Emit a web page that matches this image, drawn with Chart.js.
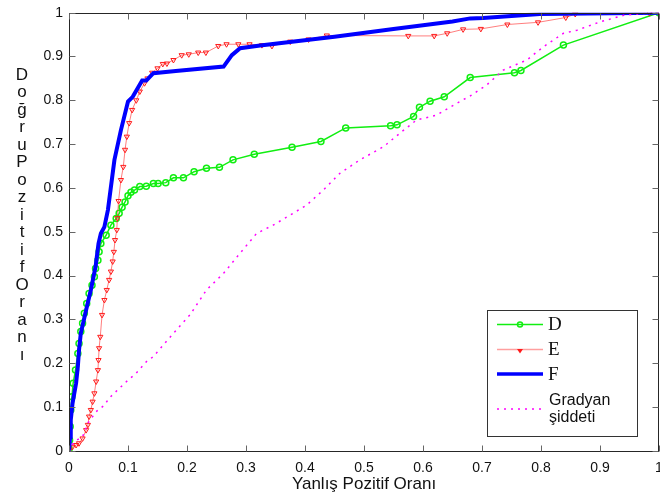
<!DOCTYPE html>
<html>
<head>
<meta charset="utf-8">
<script src="https://cdn.jsdelivr.net/npm/chart.js@4.4.1/dist/chart.umd.min.js"></script>
<style>
  html, body { margin: 0; padding: 0; background: #fff; }
</style>
</head>
<body>
<canvas id="roc" width="660" height="499"></canvas>
<script>
// ROC curves
const dX = [0, 0, 0.001, 0.002, 0.003, 0.005, 0.007, 0.011, 0.015, 0.017, 0.02, 0.023, 0.026, 0.03, 0.034, 0.039, 0.043, 0.045, 0.049, 0.051, 0.054, 0.063, 0.071, 0.08, 0.085, 0.09, 0.095, 0.1, 0.105, 0.111, 0.12, 0.131, 0.143, 0.151, 0.164, 0.177, 0.194, 0.212, 0.233, 0.255, 0.278, 0.314, 0.378, 0.427, 0.469, 0.545, 0.556, 0.584, 0.594, 0.612, 0.636, 0.68, 0.755, 0.766, 0.838, 1];
const dY = [0, 0.005, 0.024, 0.055, 0.093, 0.123, 0.154, 0.184, 0.222, 0.245, 0.272, 0.291, 0.314, 0.336, 0.359, 0.378, 0.397, 0.416, 0.435, 0.454, 0.473, 0.492, 0.515, 0.53, 0.542, 0.556, 0.568, 0.582, 0.59, 0.595, 0.603, 0.604, 0.61, 0.61, 0.612, 0.623, 0.623, 0.637, 0.645, 0.647, 0.664, 0.677, 0.693, 0.706, 0.737, 0.742, 0.744, 0.763, 0.784, 0.798, 0.808, 0.852, 0.863, 0.868, 0.926, 1];

const eX = [0, 0.006, 0.012, 0.017, 0.023, 0.029, 0.032, 0.034, 0.037, 0.04, 0.043, 0.046, 0.049, 0.05, 0.051, 0.053, 0.056, 0.06, 0.064, 0.068, 0.071, 0.074, 0.076, 0.078, 0.081, 0.082, 0.084, 0.088, 0.092, 0.095, 0.098, 0.102, 0.107, 0.114, 0.12, 0.128, 0.133, 0.141, 0.15, 0.159, 0.166, 0.177, 0.191, 0.203, 0.219, 0.232, 0.253, 0.267, 0.287, 0.306, 0.327, 0.344, 0.375, 0.406, 0.437, 0.575, 0.619, 0.641, 0.668, 0.698, 0.743, 0.795, 0.842, 0.858, 0.984, 1];
const eY = [0, 0.009, 0.013, 0.017, 0.028, 0.047, 0.059, 0.078, 0.093, 0.112, 0.131, 0.158, 0.184, 0.207, 0.234, 0.26, 0.31, 0.344, 0.367, 0.39, 0.409, 0.432, 0.454, 0.481, 0.504, 0.531, 0.57, 0.618, 0.648, 0.687, 0.717, 0.748, 0.778, 0.8, 0.82, 0.839, 0.85, 0.863, 0.873, 0.883, 0.884, 0.892, 0.903, 0.905, 0.909, 0.909, 0.924, 0.928, 0.928, 0.928, 0.926, 0.924, 0.934, 0.939, 0.948, 0.947, 0.947, 0.953, 0.962, 0.963, 0.973, 0.978, 0.989, 0.997, 0.999, 1];

const fX = [0, 0.002, 0.003, 0.006, 0.012, 0.015, 0.017, 0.02, 0.029, 0.037, 0.045, 0.05, 0.054, 0.06, 0.066, 0.077, 0.088, 0.1, 0.108, 0.124, 0.131, 0.143, 0.181, 0.262, 0.276, 0.29, 0.324, 0.45, 0.55, 0.65, 0.68, 0.702, 0.798, 1];
const fY = [0, 0.032, 0.07, 0.108, 0.154, 0.192, 0.23, 0.268, 0.321, 0.367, 0.42, 0.473, 0.496, 0.511, 0.55, 0.664, 0.732, 0.797, 0.808, 0.845, 0.845, 0.862, 0.867, 0.877, 0.903, 0.919, 0.925, 0.945, 0.963, 0.98, 0.987, 0.988, 0.997, 1];

const gX = [0, 0.002, 0.013, 0.023, 0.032, 0.046, 0.06, 0.068, 0.085, 0.1, 0.114, 0.131, 0.143, 0.177, 0.205, 0.233, 0.262, 0.29, 0.318, 0.346, 0.375, 0.403, 0.431, 0.459, 0.493, 0.533, 0.561, 0.589, 0.623, 0.657, 0.68, 0.708, 0.736, 0.776, 0.804, 0.838, 0.861, 0.9, 0.94, 0.985, 1];
const gY = [0, 0.01, 0.024, 0.032, 0.063, 0.089, 0.104, 0.12, 0.142, 0.161, 0.177, 0.203, 0.215, 0.268, 0.31, 0.367, 0.405, 0.451, 0.496, 0.515, 0.538, 0.561, 0.595, 0.633, 0.664, 0.694, 0.725, 0.755, 0.766, 0.793, 0.81, 0.835, 0.869, 0.892, 0.922, 0.953, 0.96, 0.979, 0.994, 1, 1];

const seriesNames = ['D', 'E', 'F', 'Gradyan şiddeti'];
const xTitle = 'Yanlış Pozitif Oranı';
const yTitle = 'Doğru Pozitif Oranı';
const tickValues = [0, 0.1, 0.2, 0.3, 0.4, 0.5, 0.6, 0.7, 0.8, 0.9, 1];

const pts = (xs, ys) => xs.map((x, i) => ({ x: x, y: ys[i] }));
const fmt = v => {
  if (Math.abs(v) < 1e-9) return '0';
  if (Math.abs(v - 1) < 1e-9) return '1';
  return v.toFixed(1);
};

const GREEN = '#11ee11';
const RED = '#ff1a1a';
const RED_LINE = 'rgba(255,40,40,0.6)';
const BLUE = '#0000ff';
const MAGENTA = '#ff00ff';
const AXIS = '#262626';

// box, inward ticks, axis titles and the legend, matlab style
const decor = {
  id: 'decor',
  afterDraw(chart) {
    const { ctx, chartArea: a, scales } = chart;
    const L = Math.round(a.left) + 0.5, R = Math.round(a.right) - 0.5;
    const T = Math.round(a.top) + 0.5, B = Math.round(a.bottom) + 0.5;
    ctx.save();
    ctx.strokeStyle = AXIS;
    ctx.lineWidth = 1;
    ctx.strokeRect(L, T, R - L, B - T);
    ctx.strokeStyle = '#666';
    ctx.beginPath();
    tickValues.forEach(v => {
      const px = Math.round(scales.x.getPixelForValue(v)) + 0.5;
      ctx.moveTo(px, B); ctx.lineTo(px, B - 6);
      ctx.moveTo(px, T); ctx.lineTo(px, T + 6);
      const py = Math.round(scales.y.getPixelForValue(v)) + 0.5;
      ctx.moveTo(L, py); ctx.lineTo(L + 6, py);
      ctx.moveTo(R, py); ctx.lineTo(R - 6, py);
    });
    ctx.stroke();

    ctx.fillStyle = '#111';
    ctx.font = '17px "Liberation Sans"';
    ctx.textAlign = 'center';
    ctx.textBaseline = 'middle';
    ctx.fillText(xTitle, (a.left + a.right) / 2, 484);
    const letters = yTitle.replace(/ /g, '').split('');
    letters.forEach((ch, i) => ctx.fillText(ch, 22, 75 + i * 17.5));

    // legend box
    ctx.fillStyle = '#fff';
    ctx.fillRect(487.5, 310.5, 150, 126);
    ctx.strokeStyle = '#333';
    ctx.strokeRect(487.5, 310.5, 150, 126);
    const x0 = 497, x1 = 543, xm = 520;
    ctx.lineWidth = 1.5;
    ctx.strokeStyle = GREEN;
    ctx.beginPath(); ctx.moveTo(x0, 324.5); ctx.lineTo(x1, 324.5); ctx.stroke();
    ctx.beginPath(); ctx.arc(xm, 324.5, 2.5, 0, Math.PI * 2); ctx.stroke();
    ctx.lineWidth = 1.5;
    ctx.strokeStyle = 'rgba(255,80,80,0.55)';
    ctx.beginPath(); ctx.moveTo(x0, 349.5); ctx.lineTo(x1, 349.5); ctx.stroke();
    ctx.fillStyle = RED;
    ctx.beginPath(); ctx.moveTo(xm - 3, 349); ctx.lineTo(xm + 3, 349); ctx.lineTo(xm, 353.5); ctx.closePath(); ctx.fill();
    ctx.lineWidth = 3.5;
    ctx.strokeStyle = BLUE;
    ctx.beginPath(); ctx.moveTo(x0, 374); ctx.lineTo(x1, 374); ctx.stroke();
    ctx.lineWidth = 1.5;
    ctx.strokeStyle = MAGENTA;
    ctx.setLineDash([2, 5]);
    ctx.beginPath(); ctx.moveTo(x0, 409); ctx.lineTo(x1, 409); ctx.stroke();
    ctx.setLineDash([]);

    ctx.fillStyle = '#111';
    ctx.textAlign = 'left';
    ctx.font = '19px "Liberation Serif"';
    ctx.fillText(seriesNames[0], 548, 325);
    ctx.fillText(seriesNames[1], 548, 350);
    ctx.fillText(seriesNames[2], 548, 375);
    ctx.font = '16px "Liberation Sans"';
    const parts = seriesNames[3].split(' ');
    ctx.fillText(parts[0], 549, 401);
    ctx.fillText(parts[1], 549, 418);
    ctx.restore();
  }
};

const tickFont = { family: 'Liberation Sans', size: 14 };

new Chart(document.getElementById('roc'), {
  type: 'line',
  data: {
    datasets: [
      {
        label: seriesNames[0], data: pts(dX, dY), order: 4,
        borderColor: GREEN, borderWidth: 1.5,
        pointStyle: 'circle', pointRadius: 3, pointBorderWidth: 1.5,
        pointBorderColor: GREEN, pointBackgroundColor: 'rgba(0,0,0,0)'
      },
      {
        label: seriesNames[1], data: pts(eX, eY), order: 3,
        borderColor: RED_LINE, borderWidth: 1,
        pointStyle: 'triangle', pointRotation: 180, pointRadius: 3, pointBorderWidth: 1,
        pointBorderColor: RED, pointBackgroundColor: 'rgba(0,0,0,0)'
      },
      {
        label: seriesNames[2], data: pts(fX, fY), order: 2,
        borderColor: BLUE, borderWidth: 4, pointRadius: 0
      },
      {
        label: seriesNames[3], data: pts(gX, gY), order: 1,
        borderColor: MAGENTA, borderWidth: 1.5, borderDash: [2, 5], pointRadius: 0
      }
    ]
  },
  options: {
    responsive: false,
    animation: false,
    events: [],
    layout: { padding: { top: 12.7, right: 1, left: 0, bottom: 0 }, autoPadding: false },
    plugins: { legend: { display: false }, tooltip: { enabled: false } },
    scales: {
      x: {
        type: 'linear', min: 0, max: 1,
        grid: { display: false, drawTicks: false },
        border: { display: false },
        ticks: { stepSize: 0.1, callback: fmt, font: tickFont, color: '#111', padding: 9, maxRotation: 0, autoSkip: false },
        afterFit: s => { s.height = 48.3; s.paddingLeft = 0; s.paddingRight = 0; }
      },
      y: {
        type: 'linear', min: 0, max: 1,
        grid: { display: false, drawTicks: false },
        border: { display: false },
        ticks: { stepSize: 0.1, callback: fmt, font: tickFont, color: '#111', padding: 6 },
        afterFit: s => { s.width = 69; s.paddingTop = 0; s.paddingBottom = 0; }
      }
    }
  },
  plugins: [decor]
});
</script>
</body>
</html>
